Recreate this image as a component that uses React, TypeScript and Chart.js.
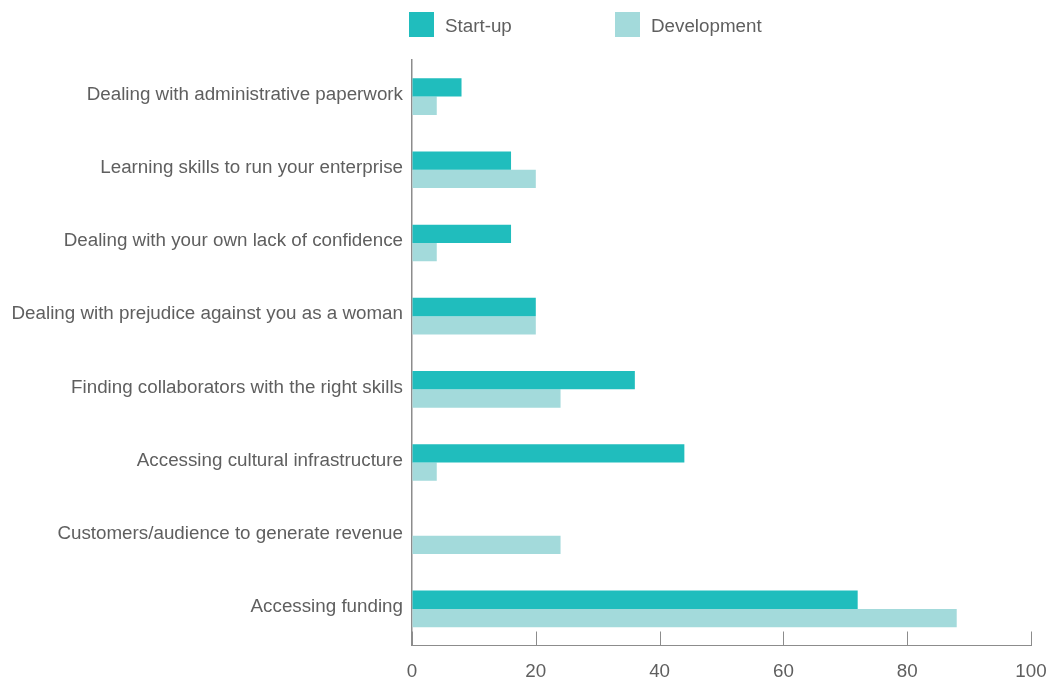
import React, { useEffect, useRef } from "react";
import { Chart, registerables } from "chart.js";

Chart.register(...registerables);

const categories = [
  "Dealing with administrative paperwork",
  "Learning skills to run your enterprise",
  "Dealing with your own lack of confidence",
  "Dealing with prejudice against you as a woman",
  "Finding collaborators with the right skills",
  "Accessing cultural infrastructure",
  "Customers/audience to generate revenue",
  "Accessing funding",
];
const startUp = [8, 16, 16, 20, 36, 44, 0, 72];
const development = [4, 20, 4, 20, 24, 4, 24, 88];
const xTickValues = [0, 20, 40, 60, 80, 100];
const seriesNames = ["Start-up", "Development"];
const seriesColors = ["#20bdbd", "#a3dadb"];

const FONT = "'Liberation Sans', Arial, Helvetica, sans-serif";
const FSIZE = 18.8;
const TEXT = "#5f5f5f";
const AXIS = "#8c8c8c";

const upTicks = {
  id: "upTicks",
  afterDraw(chart: any) {
    const sx = chart.scales.x;
    const ctx = chart.ctx;
    const bottom = chart.chartArea.bottom;
    ctx.save();
    ctx.strokeStyle = AXIS;
    ctx.lineWidth = 1;
    sx.ticks.forEach((_t: any, i: number) => {
      const px = Math.round(sx.getPixelForTick(i)) + 0.5;
      ctx.beginPath();
      ctx.moveTo(px, bottom - 14);
      ctx.lineTo(px, bottom);
      ctx.stroke();
    });
    ctx.restore();
  },
};

export default function App() {
  const ref = useRef<HTMLCanvasElement | null>(null);
  useEffect(() => {
    if (!ref.current) return;
    const chart = new Chart(ref.current, {
      type: "bar",
      data: {
        labels: categories,
        datasets: [
          {
            label: seriesNames[0],
            data: startUp,
            backgroundColor: seriesColors[0],
            categoryPercentage: 0.5,
            barPercentage: 1,
          },
          {
            label: seriesNames[1],
            data: development,
            backgroundColor: seriesColors[1],
            categoryPercentage: 0.5,
            barPercentage: 1,
          },
        ],
      },
      options: {
        indexAxis: "y",
        responsive: true,
        maintainAspectRatio: false,
        animation: false,
        layout: { padding: { left: 0, right: 0, top: 60, bottom: 0 } },
        plugins: { legend: { display: false }, tooltip: { enabled: false } },
        scales: {
          x: {
            min: 0,
            max: 100,
            afterBuildTicks: (s: any) => {
              s.ticks = xTickValues.map((v) => ({ value: v }));
            },
            ticks: { color: TEXT, font: { family: FONT, size: FSIZE }, padding: 15 },
            grid: { display: true, drawOnChartArea: false, drawTicks: false },
            border: { color: AXIS, width: 1 },
            afterFit: (s: any) => {
              s.height = 33.5;
              s.paddingRight = 20;
            },
          },
          y: {
            ticks: { color: TEXT, font: { family: FONT, size: FSIZE }, padding: 9, labelOffset: -2 },
            grid: { display: true, drawOnChartArea: false, drawTicks: false },
            border: { color: AXIS, width: 1.5 },
            afterFit: (s: any) => {
              s.width = 412;
            },
          },
        },
      },
      plugins: [upTicks],
    });
    return () => chart.destroy();
  }, []);

  const legendItem = (i: number, left: number) => (
    <div
      key={i}
      style={{
        position: "absolute",
        left,
        top: 12,
        height: 25,
        display: "flex",
        alignItems: "center",
      }}
    >
      <div style={{ width: 25, height: 25, background: seriesColors[i], marginRight: 11 }} />
      <span
        style={{
          fontFamily: FONT,
          fontSize: FSIZE,
          color: TEXT,
          lineHeight: "25px",
          position: "relative",
          top: 1,
        }}
      >
        {seriesNames[i]}
      </span>
    </div>
  );

  return (
    <div
      style={{
        position: "fixed",
        left: 0,
        top: 0,
        width: 1051,
        height: 679,
        background: "#fff",
      }}
    >
      <canvas ref={ref} />
      {legendItem(0, 409)}
      {legendItem(1, 615)}
    </div>
  );
}
